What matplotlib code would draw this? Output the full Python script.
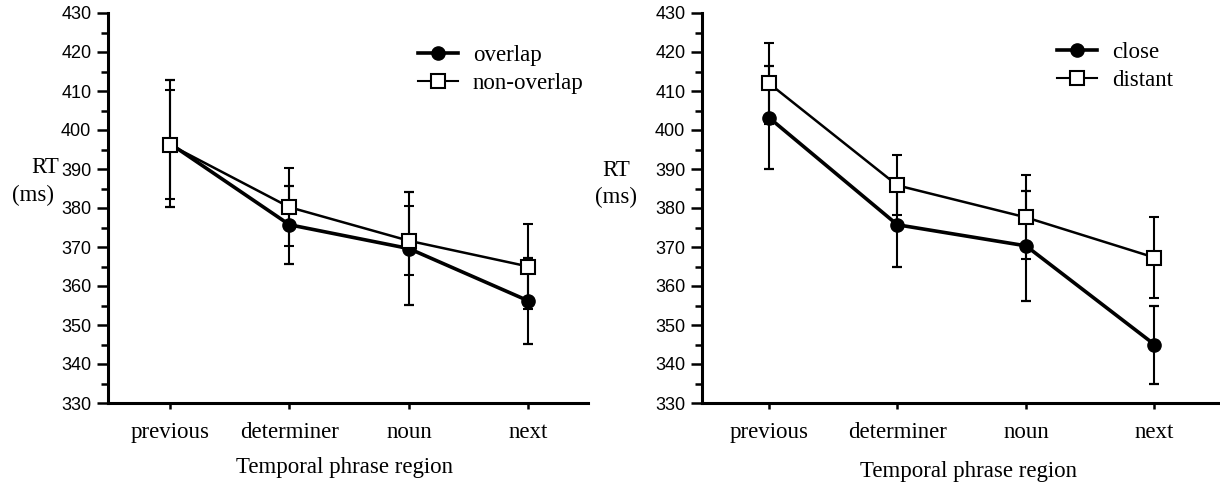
import matplotlib
matplotlib.use("Agg")
import matplotlib.pyplot as plt
from matplotlib.lines import Line2D
import numpy as np

# data (RT in ms)
regions = ["previous", "determiner", "noun", "next"]

overlap_mean = [396.5, 375.7, 369.6, 356.2]
overlap_err = [16.2, 10.0, 14.4, 11.0]
nonoverlap_mean = [396.2, 380.2, 371.6, 365.0]
nonoverlap_err = [14.0, 10.0, 8.9, 10.8]

close_mean = [403.2, 375.7, 370.3, 345.0]
close_err = [13.2, 10.9, 14.1, 10.0]
distant_mean = [412.0, 385.8, 377.6, 367.3]
distant_err = [10.4, 7.7, 10.8, 10.5]

SERIF = ["Liberation Serif", "DejaVu Serif"]
NUMS = ["Liberation Sans Narrow", "Liberation Sans", "DejaVu Sans"]
W, H = 1220, 488

fig = plt.figure(figsize=(W / 100, H / 100), dpi=100)


def panel(rect, xmax, filled, open_, labels, leg_xy):
    ax = fig.add_axes(rect)
    x = np.arange(len(regions))
    fm, fe = filled
    om, oe = open_
    ax.errorbar(x, om, yerr=oe, color="black", lw=1.8, elinewidth=1.5,
                capsize=3.6, capthick=1.6, marker="s", ms=9.5, mfc="white",
                mec="black", mew=1.5, zorder=3)
    ax.errorbar(x, fm, yerr=fe, color="black", lw=2.6, elinewidth=1.5,
                capsize=3.6, capthick=1.6, marker="o", ms=9.5, mfc="black",
                mec="black", zorder=2)
    ax.set_xlim(-0.52, xmax)
    ax.set_ylim(330, 430)
    ax.set_xticks(x)
    ax.set_xticklabels(regions, family=SERIF, fontsize=16.5)
    ax.set_yticks(np.arange(330, 431, 10))
    ax.set_yticks(np.arange(335, 430, 10), minor=True)
    for t in ax.get_yticklabels():
        t.set_family(NUMS)
        t.set_fontsize(13)
    for s in ["top", "right"]:
        ax.spines[s].set_visible(False)
    for s in ["left", "bottom"]:
        ax.spines[s].set_linewidth(2.2)
    ax.tick_params(axis="y", which="major", length=8, width=1.8, pad=4)
    ax.tick_params(axis="y", which="minor", length=5, width=1.8)
    ax.tick_params(axis="x", length=4, width=1.8, pad=10)
    handles = [
        Line2D([], [], color="black", lw=2.6, marker="o", ms=9.5),
        Line2D([], [], color="black", lw=1.5, marker="s", ms=9.5,
               mfc="white", mew=1.5),
    ]
    ax.legend(handles, labels, loc="upper left",
              bbox_to_anchor=(leg_xy[0] / W, 1 - leg_xy[1] / H),
              bbox_transform=fig.transFigure, frameon=False, borderpad=0,
              borderaxespad=0, handlelength=1.75, handletextpad=0.65,
              labelspacing=0.32, prop={"family": SERIF, "size": 16.5})
    return ax


ax1 = panel([108 / W, 85 / H, 480 / W, 390 / H], 3.5,
            (overlap_mean, overlap_err), (nonoverlap_mean, nonoverlap_err),
            ["overlap", "non-overlap"], (418, 45))
ax2 = panel([702 / W, 85 / H, 518 / W, 390 / H], 3.51,
            (close_mean, close_err), (distant_mean, distant_err),
            ["close", "distant"], (1057, 42))

fig.text(45 / W, 1 - 168 / H, "RT", family=SERIF, fontsize=16.5,
         ha="center", va="center")
fig.text(33 / W, 1 - 195 / H, "(ms)", family=SERIF, fontsize=16.5,
         ha="center", va="center")
fig.text(616 / W, 1 - 170 / H, "RT", family=SERIF, fontsize=16.5,
         ha="center", va="center")
fig.text(616 / W, 1 - 197 / H, "(ms)", family=SERIF, fontsize=16.5,
         ha="center", va="center")
fig.text(344 / W, 1 - 467 / H, "Temporal phrase region", family=SERIF,
         fontsize=16.5, ha="center", va="center")
fig.text(968 / W, 1 - 472 / H, "Temporal phrase region", family=SERIF,
         fontsize=16.5, ha="center", va="center")

fig.savefig("out.png", dpi=100)
